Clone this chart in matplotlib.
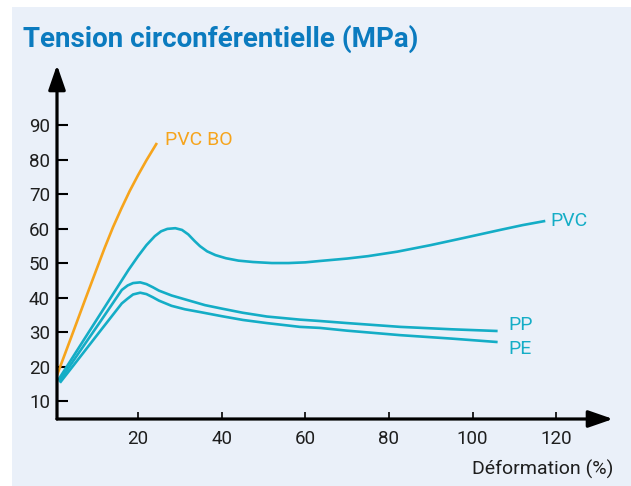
import matplotlib
matplotlib.use("Agg")
import matplotlib.pyplot as plt

# ---- data ----
pvcbo_x = [0.6, 4, 7.3, 10, 12, 14, 16, 18, 20, 22, 24.5]
pvcbo_y = [17.5, 28.5, 39.3, 48.0, 54.4, 60.4, 65.8, 70.9, 75.5, 79.8, 84.8]

pvc_x = [0.9, 5, 10, 14, 17.7, 20, 22, 24, 25.5, 27, 28.9, 30.5, 32, 33.5,
         34.8, 36.5, 38.5, 41, 44, 47.5, 52, 56, 60, 63.5, 70, 75, 82, 90,
         98, 106.6, 112, 117.4]
pvc_y = [16.1, 23.9, 33.4, 41.0, 48.0, 52.0, 55.2, 57.8, 59.2, 59.9, 60.1,
         59.6, 58.3, 56.4, 54.9, 53.4, 52.3, 51.4, 50.7, 50.3, 50.0, 50.0,
         50.2, 50.6, 51.3, 52.0, 53.3, 55.2, 57.3, 59.6, 61.0, 62.2]

pp_x = [1.1, 6, 11, 16.1, 17.5, 18.8, 20.5, 22, 23.5, 25, 28, 32, 36, 40,
        45, 50.8, 58.7, 63.5, 70, 82.7, 95, 106]
pp_y = [15.6, 24.3, 33.1, 42.2, 43.5, 44.2, 44.4, 43.9, 43.0, 42.0, 40.6,
        39.2, 37.8, 36.8, 35.6, 34.5, 33.6, 33.2, 32.6, 31.5, 30.8, 30.3]

pe_x = [1.3, 6, 11, 16.1, 17.5, 18.8, 20.5, 22, 23.5, 25, 28, 31.2, 34.8,
        40, 45.1, 50.8, 58.7, 63.5, 70, 82.7, 95, 106]
pe_y = [15.3, 22.6, 30.4, 38.3, 39.7, 40.9, 41.4, 41.0, 40.1, 39.1, 37.6,
        36.6, 35.8, 34.6, 33.5, 32.6, 31.5, 31.2, 30.4, 29.1, 28.1, 27.1]

xticks = [20, 40, 60, 80, 100, 120]
yticks = [10, 20, 30, 40, 50, 60, 70, 80, 90]

title = "Tension circonférentielle (MPa)"
xlabel = "Déformation (%)"

# ---- style ----
TEAL = "#14adc6"
ORANGE = "#f6a41c"
BLUE = "#0b7bbf"
BG = "#eaf0f9"
INK = "#1e1e1e"
FONT = ["Roboto", "DejaVu Sans"]
plt.rcParams["font.family"] = FONT

W, H = 631, 486
fig = plt.figure(figsize=(W / 100, H / 100), dpi=100)
fig.patch.set_facecolor("white")

# background panel
panel = fig.add_axes([12 / W, 0, 1 - 12 / W, 1 - 7 / H])
panel.set_facecolor(BG)
panel.set_xticks([])
panel.set_yticks([])
for s in panel.spines.values():
    s.set_visible(False)
panel.set_zorder(0)

x0px, x1px, y0px, y1px = 57, 613, 419, 65
ax = fig.add_axes([x0px / W, 1 - y0px / H, (x1px - x0px) / W, (y0px - y1px) / H])
ax.set_zorder(1)
ax.patch.set_alpha(0)
ax.set_xlim(0.6, 133.6)
ax.set_ylim(4.8, 107.4)
for s in ax.spines.values():
    s.set_visible(False)

lw = 1.9
ax.plot(pvcbo_x, pvcbo_y, color=ORANGE, lw=lw, solid_capstyle="butt",
        solid_joinstyle="round", zorder=3)
for xs, ys in ((pvc_x, pvc_y), (pp_x, pp_y), (pe_x, pe_y)):
    ax.plot(xs, ys, color=TEAL, lw=lw, solid_capstyle="butt",
            solid_joinstyle="round", zorder=3)

# axes arrows
arrow_kw = dict(arrowstyle="-|>,head_length=0.75,head_width=0.26", lw=2.3,
                color="black", shrinkA=0, shrinkB=0, mutation_scale=20)
ax.annotate("", xy=(1, 0), xytext=(0, 0), xycoords="axes fraction",
            textcoords="axes fraction", arrowprops=arrow_kw)
ax.annotate("", xy=(0, 1), xytext=(0, 0), xycoords="axes fraction",
            textcoords="axes fraction", arrowprops=arrow_kw)

ax.set_xticks(xticks)
ax.set_yticks(yticks)
ax.set_xticklabels([str(v) for v in xticks])
ax.set_yticklabels([str(v) for v in yticks])
ax.tick_params(axis="y", direction="in", length=8, width=1.5, pad=5,
               labelsize=13.5, labelcolor=INK, color="black")
ax.tick_params(axis="x", direction="in", length=5, width=1.2, pad=8,
               labelsize=13.5, labelcolor=INK, color="black")

# series labels
ax.text(26.5, 85.6, "PVC BO", color=ORANGE, fontsize=14, va="center", ha="left")
ax.text(118.6, 62.2, "PVC", color=TEAL, fontsize=14, va="center", ha="left")
ax.text(108.5, 32.0, "PP", color=TEAL, fontsize=14, va="center", ha="left")
ax.text(108.5, 25.1, "PE", color=TEAL, fontsize=14, va="center", ha="left")

# axis label
fig.text(613 / W, 1 - 469 / H, xlabel, color=INK, fontsize=14,
         ha="right", va="center")

# title
fig.text(23 / W, 1 - 47 / H, title, color=BLUE, fontsize=20,
         fontweight="bold", ha="left", va="baseline")

fig.savefig("out.png", dpi=100, facecolor=fig.get_facecolor())
